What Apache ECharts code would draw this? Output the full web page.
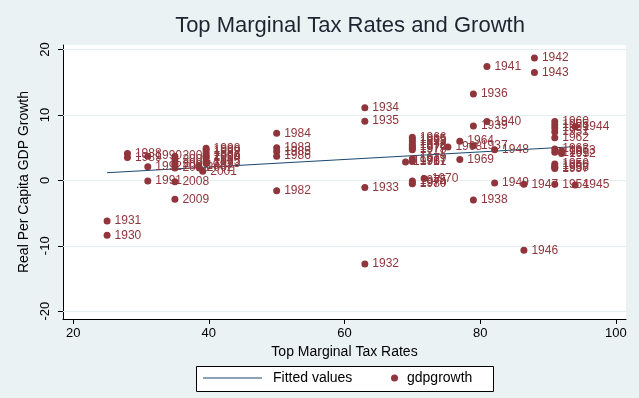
<!DOCTYPE html>
<html>
<head>
<meta charset="utf-8">
<script src="https://cdn.jsdelivr.net/npm/echarts@6/dist/echarts.min.js"></script>
<style>
html,body{margin:0;padding:0;background:#eaf2f3;}
#chart{width:639px;height:398px;}
</style>
</head>
<body>
<div id="chart"></div>
<script>
const years = [1930,1931,1932,1933,1934,1935,1936,1937,1938,1939,
  1940,1941,1942,1943,1944,1945,1946,1947,1948,1949,
  1950,1951,1952,1953,1954,1955,1956,1957,1958,1959,
  1960,1961,1962,1963,1964,1965,1966,1967,1968,1969,
  1970,1971,1972,1973,1974,1975,1976,1977,1978,1979,
  1980,1981,1982,1983,1984,1985,1986,1987,1988,1989,
  1990,1991,1992,1993,1994,1995,1996,1997,1998,1999,
  2000,2001,2002,2003,2004,2005,2006,2007,2008,2009];
const taxRates = [25,25,63,63,63,63,79,79,79,79,
  81,81,88,88,94,94,86.45,86.45,82.13,82.13,
  91,91,92,92,91,91,91,91,91,91,
  91,91,91,91,77,70,70,70,75.25,77,
  71.75,69,70,70,70,70,70,70,70,70,
  70,70,50,50,50,50,50,38.5,28,28,
  31,31,31,39.6,39.6,39.6,39.6,39.6,39.6,39.6,
  39.6,39.1,38.6,35,35,35,35,35,35,35];
const growth = [-8.4,-6.2,-12.8,-1.1,11.1,9.05,13.2,5.3,-3.0,8.3,
  9.0,17.4,18.7,16.5,8.2,-0.7,-10.7,-0.6,4.7,-0.4,
  2.5,7.4,4.1,4.5,-0.6,8.5,2.2,1.8,2.0,8.0,
  9.0,4.3,6.5,4.8,6.0,6.2,6.6,3.0,5.1,3.2,
  0.3,2.8,5.5,5.85,-0.4,-0.1,5.2,4.9,4.7,3.3,
  -0.5,2.9,-1.6,5.0,7.2,4.4,3.7,2.2,4.1,3.5,
  3.7,-0.1,2.1,2.6,3.4,2.9,3.8,4.2,4.9,4.6,
  3.6,1.4,1.9,1.9,3.7,3.2,2.6,2.3,-0.2,-2.9];
const fitX = [25, 94];
const fitY = [1.17, 5.16];
const xTicks = [20, 40, 60, 80, 100];
const yTicks = [-20, -10, 0, 10, 20];

const FONT = "'Liberation Sans', Arial, sans-serif";
const MAROON = '#90353b';
const NAVY = '#1a476f';

const scatterData = years.map((y, i) => [taxRates[i], growth[i], y]);
const fitData = fitX.map((x, i) => [x, fitY[i]]);

const chart = echarts.init(document.getElementById('chart'), null, {renderer: 'canvas'});
chart.setOption({
  backgroundColor: '#eaf2f3',
  animation: false,
  textStyle: {fontFamily: FONT},
  title: {
    text: 'Top Marginal Tax Rates and Growth',
    left: 345, top: 10, textAlign: 'center',
    textStyle: {fontFamily: FONT, fontSize: 22, fontWeight: 'normal', color: '#1c2530'}
  },
  grid: {left: 63, top: 45, right: 13, bottom: 79, show: true, backgroundColor: '#ffffff', borderWidth: 0},
  xAxis: {
    type: 'value', min: 18.5, max: 101.5,
    name: 'Top Marginal Tax Rates', nameLocation: 'middle', nameGap: 24,
    nameTextStyle: {fontFamily: FONT, fontSize: 14, color: '#000'},
    axisLine: {show: true, onZero: false, lineStyle: {color: '#000', width: 1}},
    axisTick: {show: true, customValues: xTicks, length: 5, lineStyle: {color: '#000'}},
    axisLabel: {customValues: xTicks, fontFamily: FONT, fontSize: 13, color: '#000', margin: 8},
    splitLine: {show: false}
  },
  yAxis: {
    type: 'value', min: -21.2, max: 20.7,
    name: 'Real Per Capita GDP Growth', nameLocation: 'middle', nameGap: 32,
    nameTextStyle: {fontFamily: FONT, fontSize: 14, color: '#000'},
    axisLine: {show: true, onZero: false, lineStyle: {color: '#000', width: 1}},
    axisTick: {show: true, customValues: yTicks, length: 5, lineStyle: {color: '#000'}},
    axisLabel: {customValues: yTicks, rotate: 90, fontFamily: FONT, fontSize: 13, color: '#000', margin: 11},
    splitLine: {show: false}
  },
  legend: [
    {
      data: [{name: 'Fitted values', icon: 'rect', itemStyle: {color: NAVY}}],
      left: 203, top: 371, padding: 0,
      itemWidth: 59, itemHeight: 1,
      textStyle: {fontFamily: FONT, fontSize: 14, color: '#000', padding: [0, 0, 0, 6]}
    },
    {
      data: ['gdpgrowth'], left: 391, top: 371, padding: 0,
      itemWidth: 7, itemHeight: 7,
      textStyle: {fontFamily: FONT, fontSize: 14, color: '#000', padding: [0, 0, 0, 4]}
    }
  ],
  graphic: [{
    type: 'rect', z: 0,
    shape: {x: 196.5, y: 366.5, width: 297, height: 25},
    style: {fill: '#ffffff', stroke: '#000', lineWidth: 1}
  }],
  series: [
    {
      name: 'Fitted values', type: 'line', data: fitData,
      symbol: 'none', z: 2,
      lineStyle: {color: NAVY, width: 1}, itemStyle: {color: NAVY},
      markLine: {
        silent: true, symbol: 'none', z: 1,
        label: {show: false},
        lineStyle: {color: '#e4edef', width: 1, type: 'solid'},
        data: yTicks.map(v => ({yAxis: v}))
      }
    },
    {
      name: 'gdpgrowth', type: 'scatter', data: scatterData,
      symbol: 'circle', symbolSize: 7, z: 3,
      itemStyle: {color: MAROON, opacity: 1},
      label: {
        show: true, position: 'right', distance: 4,
        formatter: p => String(p.data[2]),
        fontFamily: FONT, fontSize: 12, color: MAROON
      }
    }
  ]
});
</script>
</body>
</html>
